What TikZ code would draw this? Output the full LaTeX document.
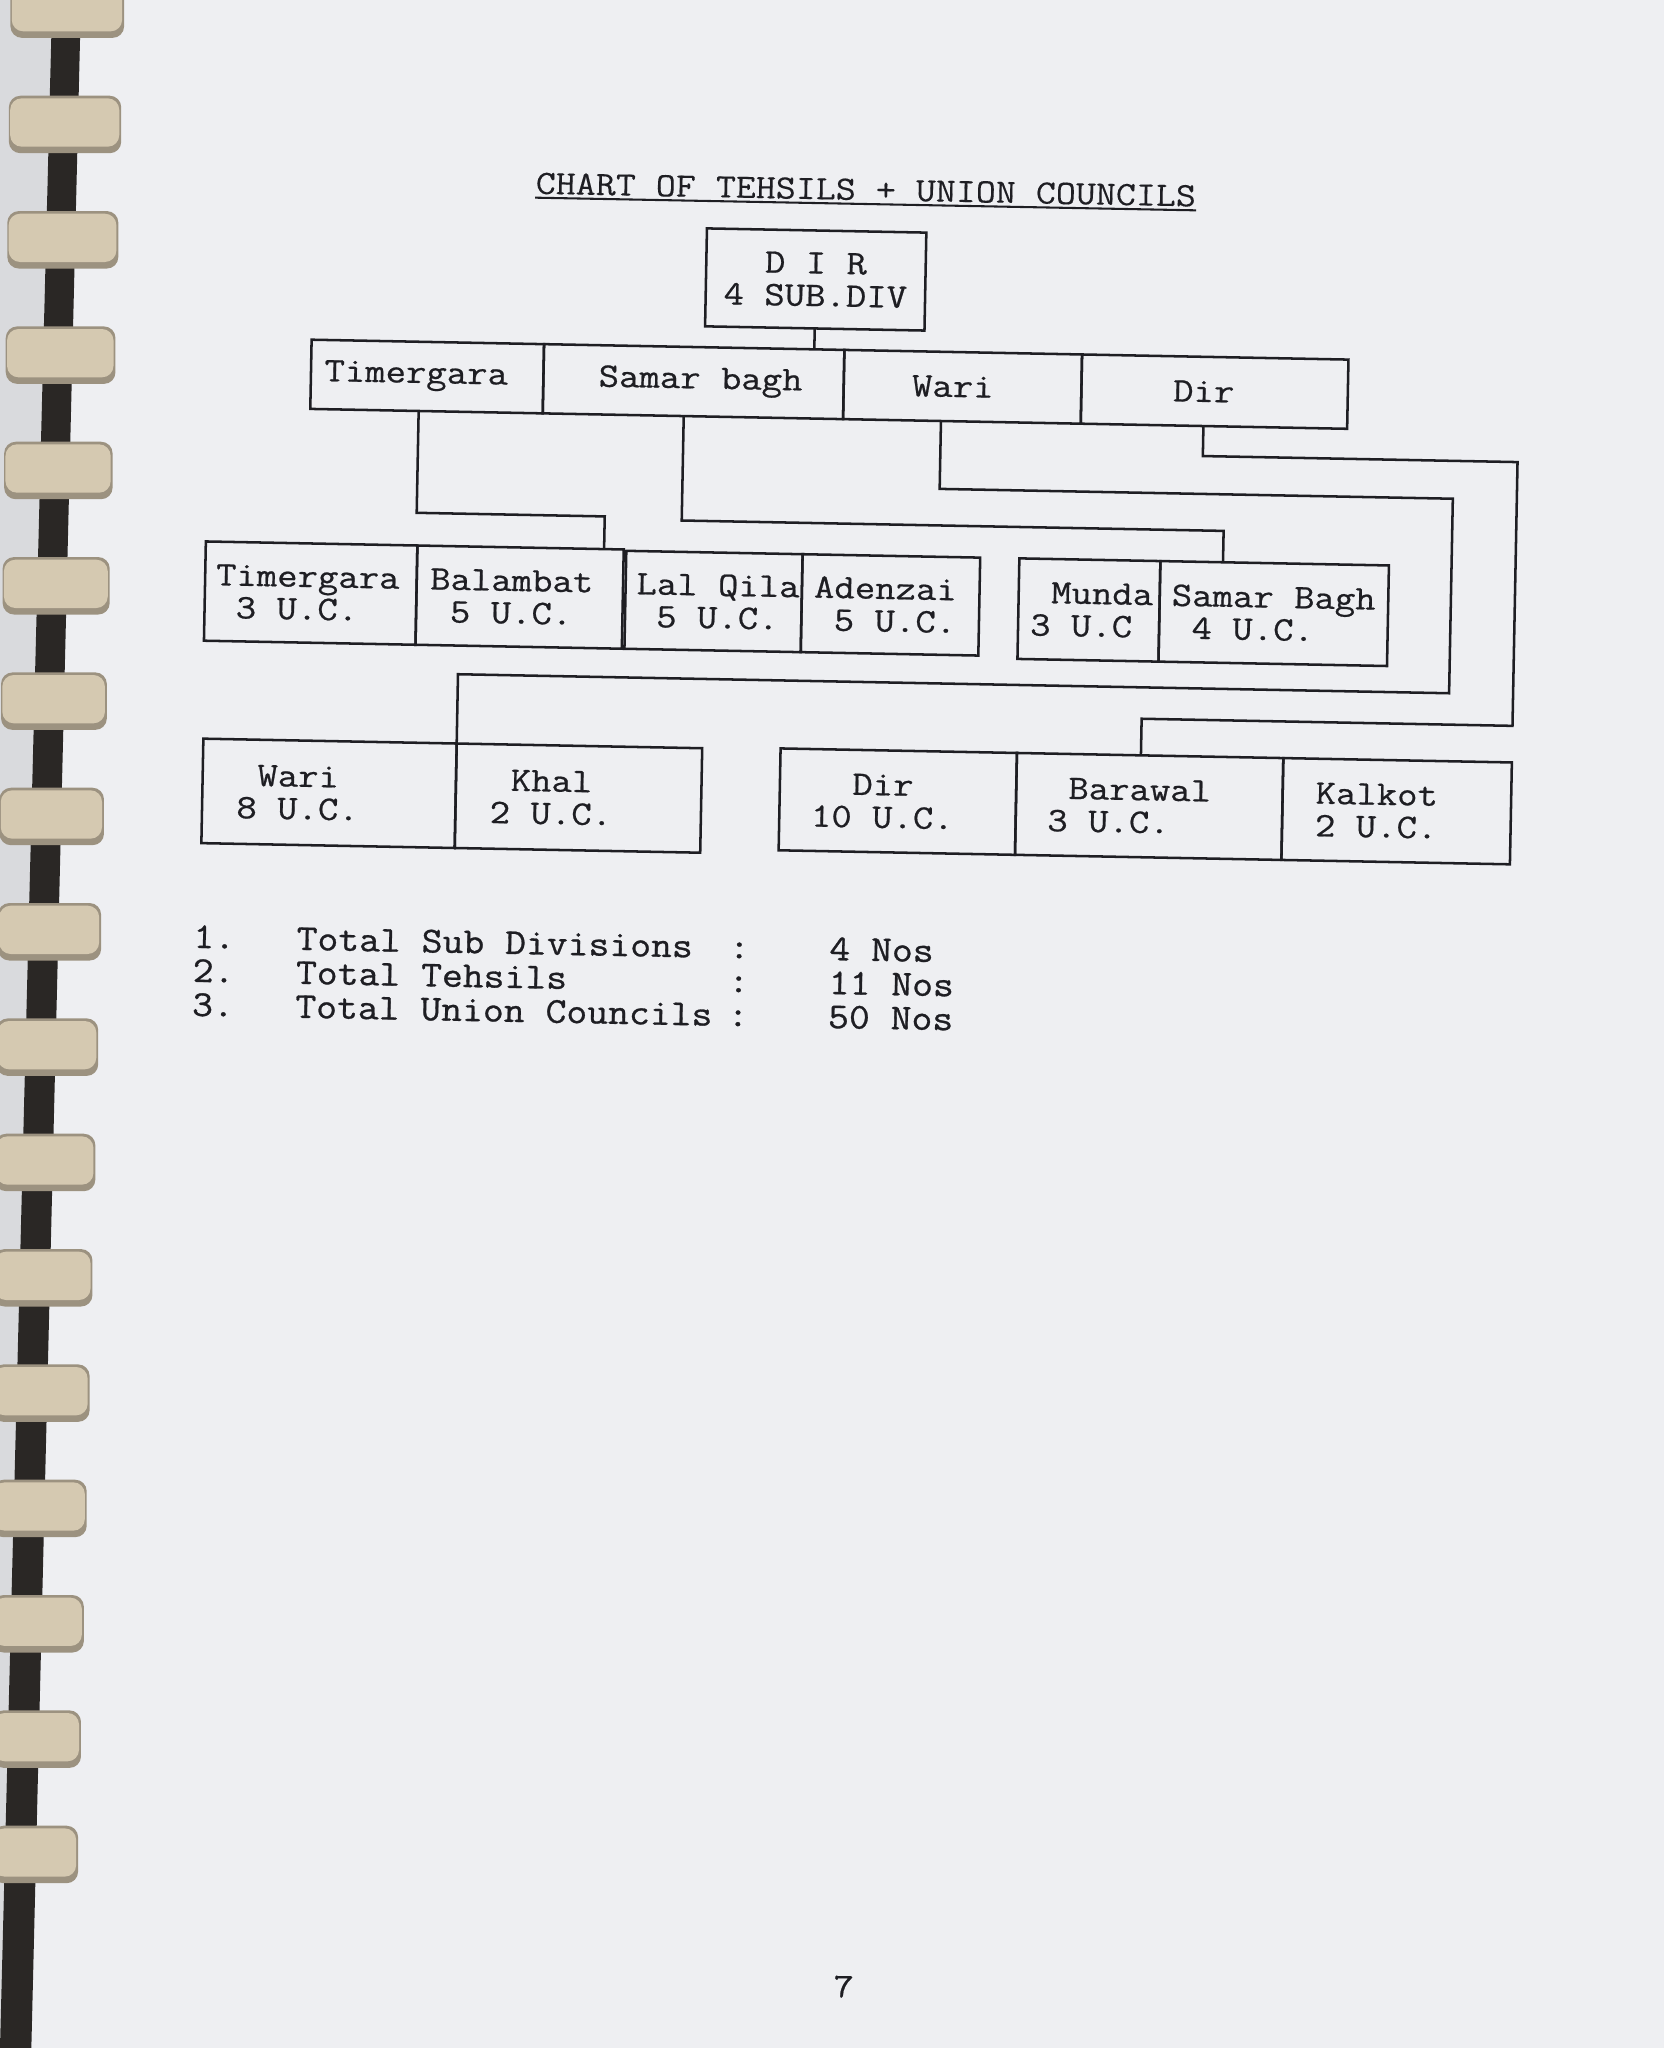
\documentclass[tikz,border=0pt]{standalone}
\usepackage{fontspec}
\usetikzlibrary{calc}
\newfontfamily\tw{Latin Modern Mono}[FakeBold=0.6, FakeStretch=1.15]
\newfontfamily\twt{Latin Modern Mono}[FakeBold=0.2, FakeStretch=1.14]
\newfontfamily\twl{Latin Modern Mono}[FakeBold=0.8, FakeStretch=1.11]
\newcommand\cfont{\tw\fontsize{15pt}{14.2pt}\selectfont}
\newcommand\hfont{\twt\fontsize{14.85pt}{14pt}\selectfont}
\newcommand\lfont{\twl\fontsize{15.9pt}{14.4pt}\selectfont}
\newcommand\pad{\hphantom{0}}
\definecolor{paper}{HTML}{EEEFF2}
\definecolor{ink}{HTML}{1E1E23}
\definecolor{coil}{HTML}{D5C9B1}
\definecolor{coilshade}{HTML}{9C9280}
\definecolor{spine}{HTML}{2A2725}
\definecolor{cover}{HTML}{D9DADD}
% one drawn cell: name, x1, y1, x2, y2, text indent, text
\newcommand\cellbox[7]{%
  \node[box, minimum width={(#4-#2)*0.02cm}, minimum height={(#5-#3)*0.02cm}] (#1) at ({(#2+#4)/2},{(#3+#5)/2}) {};
  \node[lab] (#1-t) at ($(#1.west)+(#6,0)$) {#7};}
\begin{document}
\begin{tikzpicture}[x=0.02cm,y=-0.02cm,
  box/.style={draw=ink, line width=1.1pt, inner sep=0pt, outer sep=0pt},
  lab/.style={anchor=west, inner sep=0pt, align=left, font=\cfont, text=ink},
  wire/.style={draw=ink, line width=1.1pt},
  lst/.style={anchor=west, inner sep=0pt, font=\lfont, text=ink, text height=8pt, text depth=2pt}]

% page
\fill[paper] (0,0) rectangle (1274,1568);
\useasboundingbox (0,0) rectangle (1274,1568);

% spiral binding
\fill[cover] (0,0) -- (40,0) -- (0,1568) -- cycle;
\fill[spine] (40,0) -- (62,0) -- (24,1568) -- (0,1568) -- cycle;
\foreach \i in {0,...,16}{
  \pgfmathsetmacro\yc{7+88.3*\i}
  \pgfmathsetmacro\xr{95-2.2*\i}
  \pgfmathsetmacro\xl{max(-6,8-1.2*\i)}
  \fill[coilshade, rounded corners=5] (\xl,\yc-22) rectangle (\xr,\yc+22);
  \fill[coil, rounded corners=5] (\xl+1,\yc-20) rectangle (\xr-1.5,\yc+17);
}

\begin{scope}[rotate around={-1.1:(650,450)}, transform shape]
% heading
\node[anchor=base west, inner sep=0pt, font=\hfont, text=ink] (title) at (404,153) {CHART OF TEHSILS + UNION COUNCILS};
\draw[ink, line width=0.9pt] ($(title.base west)+(0,3)$) -- ($(title.base east)+(0,3)$);

% district
\node[box, minimum width={168*0.02cm}, minimum height={75*0.02cm}, align=center, font=\cfont, text=ink] (dir) at (620,214.5) {D I R\\4 SUB.DIV};

% sub-divisions
\cellbox{tTim}{235}{268}{413}{321}{10}{Timergara}
\cellbox{tSam}{413}{268}{643}{321}{42}{Samar bagh}
\cellbox{tWari}{643}{268}{825}{321}{52}{Wari}
\cellbox{tDir}{825}{268}{1029}{321}{70}{Dir}

% tehsils
\cellbox{timUC}{157}{424}{319}{500}{8}{Timergara\\\pad 3 U.C.}
\cellbox{balUC}{319}{424}{477}{500}{10}{Balambat\\\pad 5 U.C.}
\cellbox{lalUC}{479}{425}{614}{500}{8}{Lal Qila\\\pad 5 U.C.}
\cellbox{adzUC}{614}{425}{750}{500}{9}{Adenzai\\\pad 5 U.C.}
\cellbox{munUC}{780}{425}{888}{502}{9}{\pad Munda\\3 U.C}
\cellbox{sbUC}{888}{425}{1063}{502}{9}{Samar Bagh\\\pad 4 U.C.}
\cellbox{wariUC}{158}{575}{352}{655}{26}{\pad Wari\\8 U.C.}
\cellbox{khalUC}{352}{575}{540}{655}{26}{\pad Khal\\2 U.C.}
\cellbox{dirUC}{600}{574}{781}{652}{24}{\pad\pad Dir\\10 U.C.}
\cellbox{barUC}{781}{574}{985}{652}{24}{\pad Barawal\\3 U.C.}
\cellbox{kalUC}{985}{574}{1160}{652}{25}{Kalkot\\2 U.C.}

% connectors
\coordinate (jTim) at (462,399);
\coordinate (jSam) at (936,401);
\coordinate (jWa1) at (1111,373);
\coordinate (jDi1) at (1160,344);
\coordinate (jDi2) at (876,546);
\coordinate (jWa2) at ($(wariUC.north east)+(0,-53)$);
\draw[wire] (dir.south) -- (dir.south |- tSam.north);
\draw[wire] ($(tTim.south)+(-6,0)$) |- (jTim) -- (jTim |- balUC.north);
\draw[wire] ($(tSam.south)+(-7,0)$) |- (jSam) -- (jSam |- sbUC.north);
\draw[wire] ($(tWari.south)+(-16,0)$) |- (jWa1) |- (jWa2) -- (wariUC.north east);
\draw[wire] ($(tDir.south)+(-8,0)$) |- (jDi1) |- (jDi2) -- (jDi2 |- barUC.north);

% totals
\node[lst] (n1) at (153,730) {1.};
\node[lst] (s1) at (232,730) {Total Sub Divisions};
\node[lst] (c1) at (563,730) {:};
\node[lst] (v1) at (640,730) {4 Nos};
\node[lst] (n2) at (153,756) {2.};
\node[lst] (s2) at (232,756) {Total Tehsils};
\node[lst] (c2) at (563,756) {:};
\node[lst] (v2) at (640,756) {11 Nos};
\node[lst] (n3) at (153,782) {3.};
\node[lst] (s3) at (232,782) {Total Union Councils};
\node[lst] (c3) at (563,782) {:};
\node[lst] (v3) at (640,782) {50 Nos};
\end{scope}

% folio
\node[inner sep=0pt, font=\cfont, text=ink] (pg) at (646,1521) {7};
\end{tikzpicture}
\end{document}
